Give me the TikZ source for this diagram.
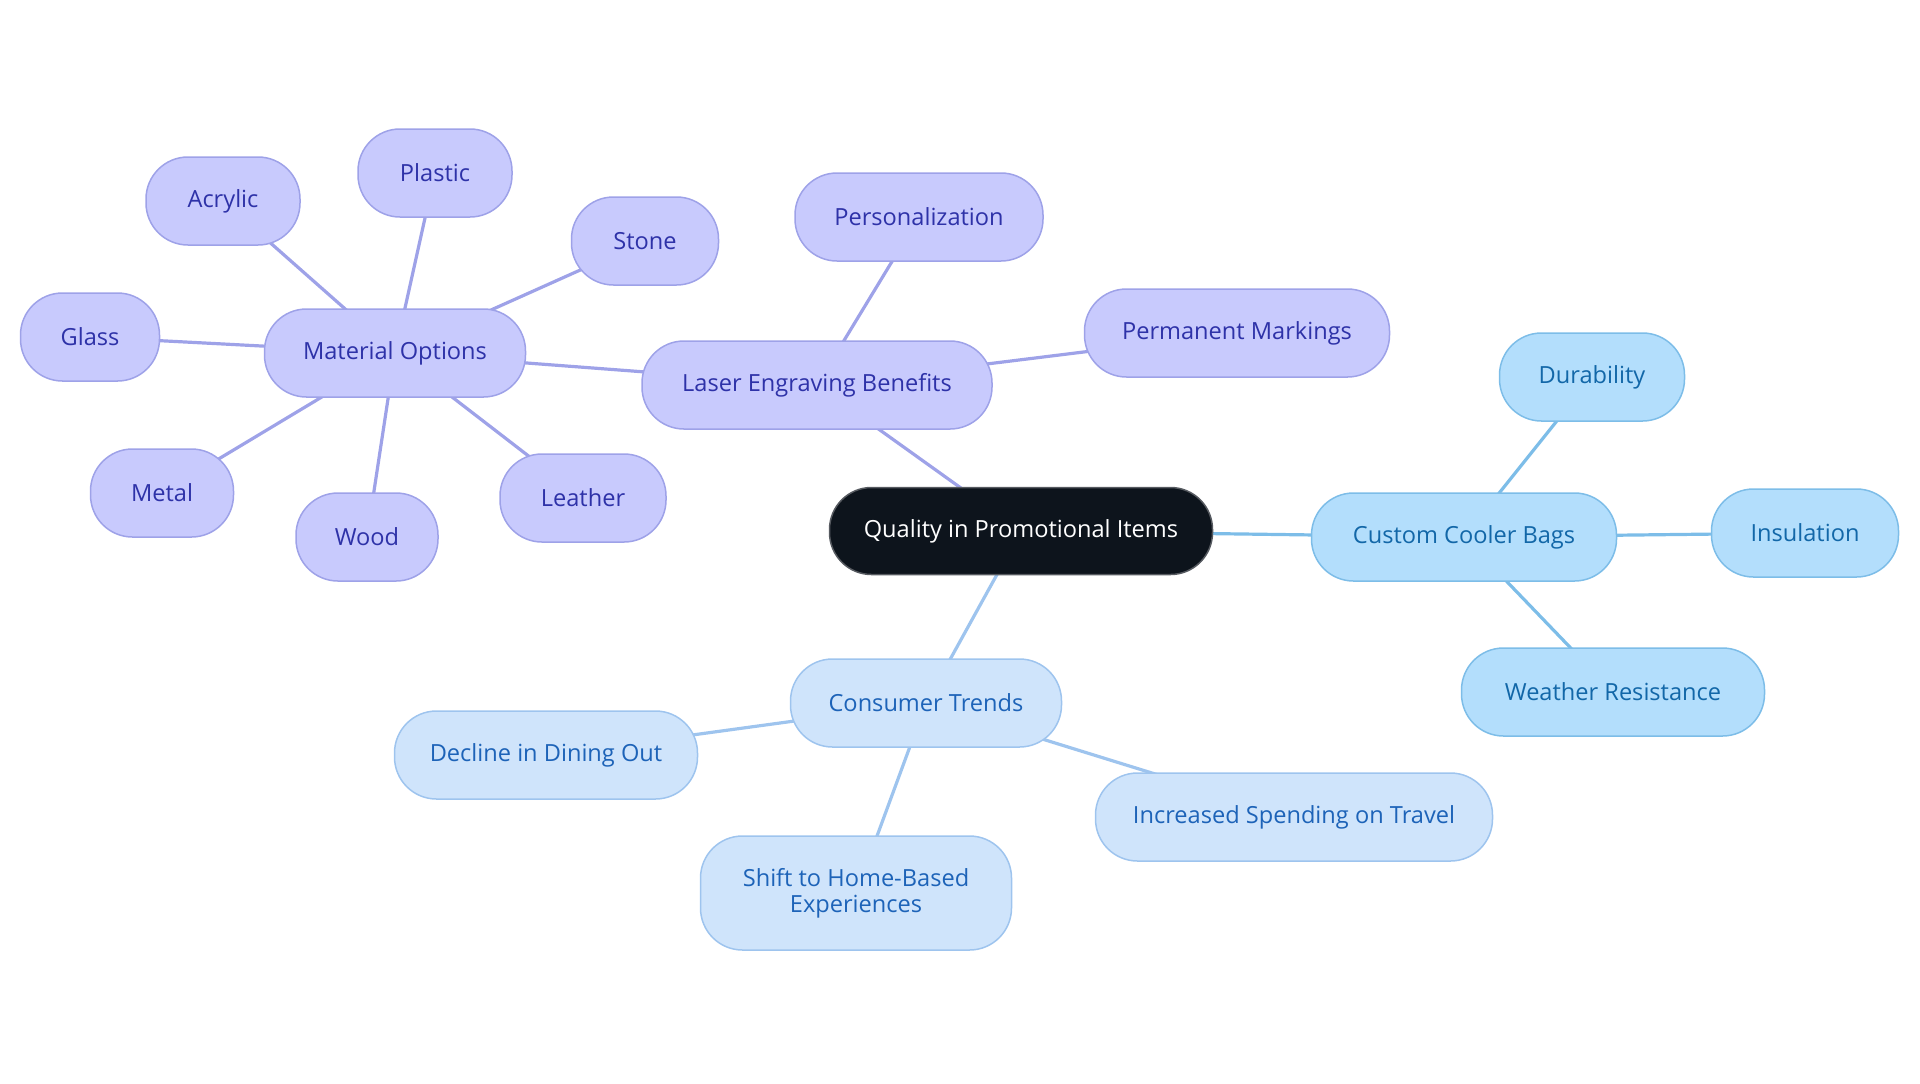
\documentclass[tikz,border=0pt]{standalone}
\usepackage{fontspec}
\setmainfont{Open Sans}
\usetikzlibrary{backgrounds}
\definecolor{pfill}{HTML}{C8CAFD}
\definecolor{pdraw}{HTML}{9EA2E8}
\definecolor{ptext}{HTML}{2E32A8}
\definecolor{bfill}{HTML}{B3DEFC}
\definecolor{bdraw}{HTML}{7DBDE8}
\definecolor{btext}{HTML}{1267A8}
\definecolor{lfill}{HTML}{CFE4FB}
\definecolor{ldraw}{HTML}{9EC4EE}
\definecolor{ltext}{HTML}{1D63B8}
\definecolor{dark}{HTML}{0D141C}
\begin{document}
\begin{tikzpicture}[x=0.5pt,y=-0.5pt,
  every node/.style={font=\fontsize{11.8}{13}\selectfont, align=center, inner sep=0pt, minimum height=44pt, rounded corners=21pt, line width=0.75pt},
  pnode/.style={fill=pfill, draw=pdraw, text=ptext},
  bnode/.style={fill=bfill, draw=bdraw, text=btext},
  lnode/.style={fill=lfill, draw=ldraw, text=ltext},
  cnode/.style={fill=dark, draw=dark!70, text=white},
  pedge/.style={draw=pdraw, line width=1.6pt},
  bedge/.style={draw=bdraw, line width=1.6pt},
  ledge/.style={draw=ldraw, line width=1.6pt}]
\useasboundingbox (0,0) rectangle (1920,1083);
% nodes
\node[cnode, minimum width=191.5pt, minimum height=43.5pt] (c) at (1021,531) {Quality in Promotional Items};
\node[bnode, minimum width=152.5pt] (ccb) at (1464,537) {Custom Cooler Bags};
\node[bnode, minimum width=92.5pt] (dur) at (1592,377) {Durability};
\node[bnode, minimum width=93.5pt] (ins) at (1805,533) {Insulation};
\node[bnode, minimum width=151.5pt] (wr) at (1613,692) {Weather Resistance};
\node[lnode, minimum width=135.5pt] (ct) at (926,703) {Consumer Trends};
\node[lnode, minimum width=151.5pt] (dd) at (546,755) {Decline in Dining Out};
\node[lnode, minimum width=198.5pt] (ist) at (1294,817) {Increased Spending on Travel};
\node[lnode, minimum width=155.5pt, minimum height=57pt] (sh) at (856,893) {Shift to Home-Based\\Experiences};
\node[pnode, minimum width=175pt] (leb) at (817,385) {Laser Engraving Benefits};
\node[pnode, minimum width=124pt] (per) at (919,217) {Personalization};
\node[pnode, minimum width=152.5pt] (pm) at (1237,333) {Permanent Markings};
\node[pnode, minimum width=130.5pt] (mo) at (395,353) {Material Options};
\node[pnode, minimum width=77pt] (acr) at (223,201) {Acrylic};
\node[pnode, minimum width=77pt] (pla) at (435,173) {Plastic};
\node[pnode, minimum width=73.5pt] (sto) at (645,241) {Stone};
\node[pnode, minimum width=69.5pt] (gla) at (90,337) {Glass};
\node[pnode, minimum width=71.5pt] (met) at (162,493) {Metal};
\node[pnode, minimum width=71pt] (woo) at (367,537) {Wood};
\node[pnode, minimum width=83pt] (lea) at (583,498) {Leather};
% edges
\begin{scope}[on background layer]
\draw[bedge] (c.center) -- (ccb.center);
\draw[bedge] (ccb.center) -- (dur.center);
\draw[bedge] (ccb.center) -- (ins.center);
\draw[bedge] (ccb.center) -- (wr.center);
\draw[ledge] (c.center) -- (ct.center);
\draw[ledge] (ct.center) -- (dd.center);
\draw[ledge] (ct.center) -- (ist.center);
\draw[ledge] (ct.center) -- (sh.center);
\draw[pedge] (c.center) -- (leb.center);
\draw[pedge] (leb.center) -- (per.center);
\draw[pedge] (leb.center) -- (pm.center);
\draw[pedge] (leb.center) -- (mo.center);
\draw[pedge] (mo.center) -- (acr.center);
\draw[pedge] (mo.center) -- (pla.center);
\draw[pedge] (mo.center) -- (sto.center);
\draw[pedge] (mo.center) -- (gla.center);
\draw[pedge] (mo.center) -- (met.center);
\draw[pedge] (mo.center) -- (woo.center);
\draw[pedge] (mo.center) -- (lea.center);
\end{scope}
\end{tikzpicture}
\end{document}
